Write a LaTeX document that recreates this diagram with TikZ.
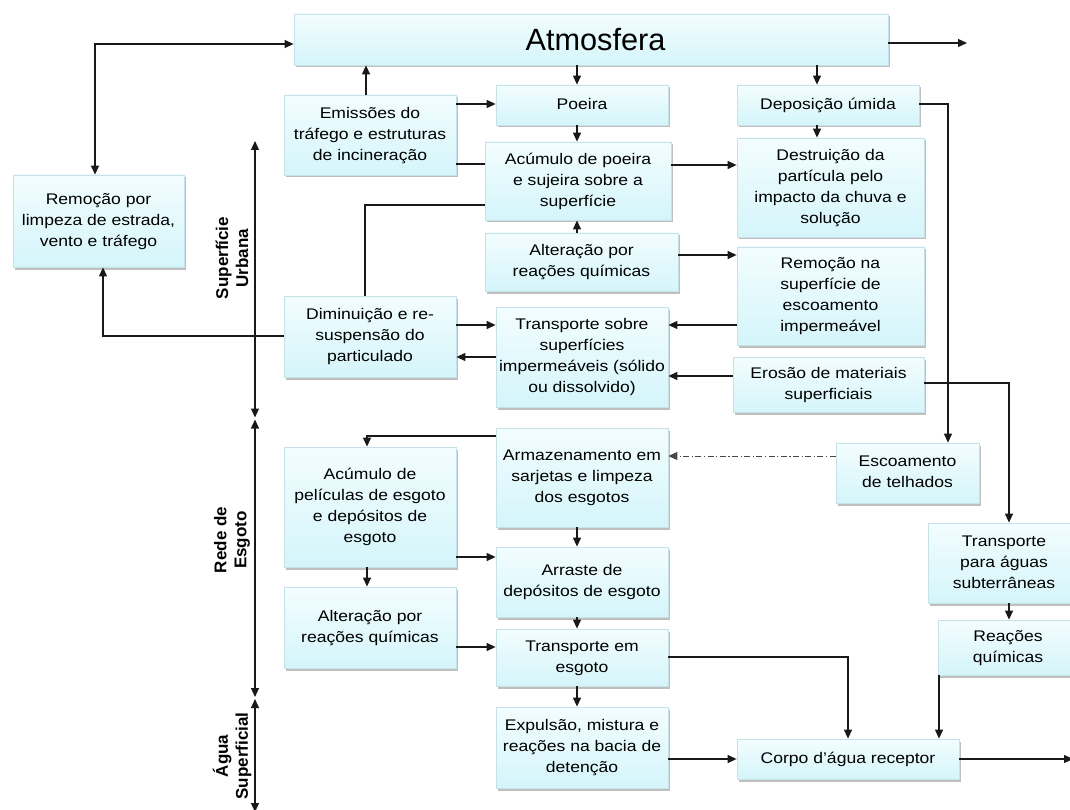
\documentclass[tikz,border=0pt]{standalone}
\usepackage{fontspec}
\setmainfont{Liberation Sans}
\usepackage{graphicx}
\usetikzlibrary{arrows.meta,shadows}
\definecolor{boxtop}{RGB}{243,253,255}
\definecolor{boxbot}{RGB}{212,245,250}
\definecolor{boxline}{RGB}{198,225,232}
\definecolor{lin}{RGB}{25,25,25}
\newcommand{\T}[1]{\scalebox{1.14}[1]{\begin{tabular}{@{}c@{}}#1\end{tabular}}}
\newcommand{\bx}[6]{\node[box, minimum width={#4-#2}, minimum height={#5-#3}] (#1) at ({(#2+#4)/2},{(#3+#5)/2}) {#6};}
\tikzset{
  box/.style={draw=boxline, line width=0.8pt, top color=boxtop, bottom color=boxbot,
    inner sep=0pt, font=\fontsize{15.4}{21}\selectfont,
    drop shadow={shadow xshift=1.5pt, shadow yshift=-2.5pt, fill=black, opacity=0.25}},
  tip/.tip={Triangle[length=9pt,width=8pt]},
  arr/.style={draw=lin, line width=1.2pt, -tip},
  darr/.style={draw=lin, line width=1.2pt, tip-tip},
  ln/.style={draw=lin, line width=1.2pt},
  dd/.style={draw=lin!80, line width=0.9pt, dash pattern=on 6pt off 2.5pt on 1.2pt off 2.5pt, -tip},
  axlab/.style={font=\fontsize{17}{20}\bfseries\selectfont, rotate=90, align=center},
}
\begin{document}
\begin{tikzpicture}[x=1pt,y=-1pt]
\useasboundingbox (0,0) rectangle (1070,810);
\fill[white] (0,0) rectangle (1070,810);

% boxes
\bx{Atm}{294}{14}{888}{65}{\fontsize{30.7}{34}\selectfont\hspace{9pt}Atmosfera}
\bx{Emis}{284}{95}{456}{175}{\T{Emissões do\\tráfego e estruturas\\de incineração}}
\bx{Poeira}{496}{85}{668}{125}{\T{Poeira}}
\bx{Dep}{737}{85}{919}{125}{\T{Deposição úmida}}
\bx{Acum}{485}{142}{671}{220}{\T{Acúmulo de poeira\\e sujeira sobre a\\superfície}}
\bx{Destr}{737}{138}{924}{237}{\T{Destruição da\\partícula pelo\\impacto da chuva e\\solução}}
\bx{RemL}{13}{175}{184}{267}{\T{Remoção por\\limpeza de estrada,\\vento e tráfego}}
\bx{Alt1}{485}{233}{678}{291}{\T{Alteração por\\reações químicas}}
\bx{RemS}{737}{247}{924}{345}{\T{Remoção na\\superfície de\\escoamento\\impermeável}}
\bx{Dimin}{284}{296}{456}{377}{\T{Diminuição e re-\\suspensão do\\particulado}}
\bx{TrSup}{496}{307}{668}{407}{\T{Transporte sobre\\superfícies\\impermeáveis (sólido\\ou dissolvido)}}
\bx{Eros}{733}{357}{924}{412}{\T{Erosão de materiais\\superficiais}}
\bx{Armaz}{496}{428}{668}{527}{\T{Armazenamento em\\sarjetas e limpeza\\dos esgotos}}
\bx{Esc}{836}{443}{979}{503}{\T{Escoamento\\de telhados}}
\bx{AcPel}{284}{447}{456}{567}{\T{Acúmulo de\\películas de esgoto\\e depósitos de\\esgoto}}
\bx{Arr}{496}{547}{668}{617}{\T{Arraste de\\depósitos de esgoto}}
\bx{TrSub}{928}{523}{1080}{603}{\T{Transporte\\para águas\\subterrâneas}}
\bx{Alt2}{284}{587}{456}{668}{\T{Alteração por\\reações químicas}}
\bx{TrEsg}{496}{629}{668}{686}{\T{Transporte em\\esgoto}}
\bx{Reac}{938}{620}{1078}{675}{\T{Reações\\químicas}}
\bx{Exp}{496}{707}{668}{788}{\T{Expulsão, mistura e\\reações na bacia de\\detenção}}
\bx{Corpo}{737}{739}{959}{779}{\T{Corpo d'água receptor}}

% axis labels
\node[axlab] (lab1) at (232,258) {Superfície\\Urbana};
\node[axlab] (lab2) at (232,540) {Rede de\\Esgoto};
\node[axlab] (lab3) at (232,756) {Água\\Superficial};

% axis
\coordinate (ax0) at (255,141);
\coordinate (ax1) at (255,417.5);
\coordinate (ax2) at (255,419.5);
\coordinate (ax3) at (255,697);
\coordinate (ax4) at (255,699);
\coordinate (ax5) at (255,812);
\draw[darr] (ax0) -- (ax1);
\draw[darr] (ax2) -- (ax3);
\draw[darr] (ax4) -- (ax5);

% free ends
\coordinate (o1) at (967,43);
\coordinate (o2) at (1073,759);
\coordinate (c1) at (95,44);

% connectors
\draw[arr] (Atm.east |- o1) -- (o1);
\draw[darr] (RemL.north -| c1) |- (Atm.west |- c1);
\draw[arr] (Emis.north -| 366,0) -- (Atm.south -| 366,0);
\draw[arr] (Atm.south -| 577,0) -- (Poeira.north -| 577,0);
\draw[arr] (Atm.south -| 817,0) -- (Dep.north -| 817,0);
\draw[arr] (Emis.east |- 0,104) -- (Poeira.west |- 0,104);
\draw[ln] (Emis.east |- 0,164) -- (Acum.west |- 0,164);
\draw[ln] (Dimin.north -| 365,0) |- (Acum.west |- 0,205);
\draw[arr] (Poeira.south -| 577,0) -- (Acum.north -| 577,0);
\draw[arr] (Acum.east |- 0,165) -- (Destr.west |- 0,165);
\draw[arr] (Alt1.north -| 577,0) -- (Acum.south -| 577,0);
\draw[arr] (Alt1.east |- 0,255) -- (RemS.west |- 0,255);
\draw[arr] (Dep.south -| 817,0) -- (Destr.north -| 817,0);
\draw[arr] (Dep.east |- 0,104) -| (Esc.north -| 948,0);
\draw[arr] (RemS.west |- 0,325) -- (TrSup.east |- 0,325);
\draw[arr] (Eros.west |- 0,376) -- (TrSup.east |- 0,376);
\draw[arr] (Eros.east |- 0,383) -| (TrSub.north -| 1009,0);
\draw[arr] (Dimin.east |- 0,325) -- (TrSup.west |- 0,325);
\draw[arr] (TrSup.west |- 0,357) -- (Dimin.east |- 0,357);
\draw[arr] (Dimin.west |- 0,336) -| (RemL.south -| 103,0);
\draw[arr] (Armaz.west |- 0,436) -| (AcPel.north -| 367,0);
\draw[dd] (Esc.west |- 0,456) -- (Armaz.east |- 0,456);
\draw[arr] (Armaz.south -| 577,0) -- (Arr.north -| 577,0);
\draw[arr] (Arr.south -| 577,0) -- (TrEsg.north -| 577,0);
\draw[arr] (TrEsg.south -| 577,0) -- (Exp.north -| 577,0);
\draw[arr] (AcPel.east |- 0,557) -- (Arr.west |- 0,557);
\draw[arr] (AcPel.south -| 367,0) -- (Alt2.north -| 367,0);
\draw[arr] (Alt2.east |- 0,647) -- (TrEsg.west |- 0,647);
\draw[arr] (TrEsg.east |- 0,657) -| (Corpo.north -| 848,0);
\draw[arr] (Exp.east |- Corpo.west) -- (Corpo.west);
\draw[arr] (TrSub.south -| 1009,0) -- (Reac.north -| 1009,0);
\draw[arr] (Reac.south -| 939,0) -- (Corpo.north -| 939,0);
\draw[arr] (Corpo.east) -- (o2);
\end{tikzpicture}
\end{document}
